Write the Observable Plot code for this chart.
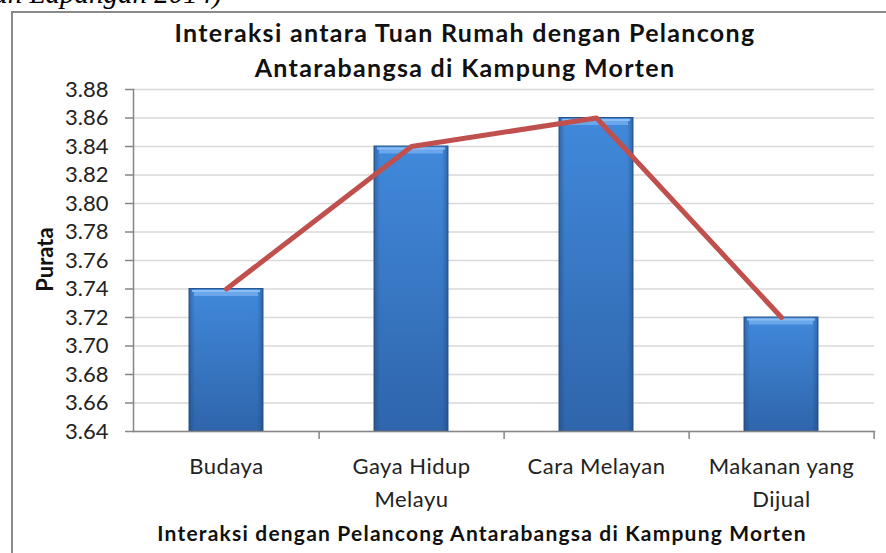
<!DOCTYPE html>
<html><head><meta charset="utf-8">
<script src="https://cdn.jsdelivr.net/npm/d3@7"></script>
<script src="https://cdn.jsdelivr.net/npm/@observablehq/plot@0.6"></script>
<style>
html,body{margin:0;padding:0;background:#fff;overflow:hidden;width:886px;height:553px}
#wrap{position:relative;width:886px;height:553px;overflow:hidden}
#border{position:absolute;left:11px;top:11px;width:1000px;height:1000px;border:2px solid #8a8a8a;pointer-events:none}
#note{position:absolute;right:664px;top:-27px;font-family:"Liberation Serif",serif;font-style:italic;font-size:29px;line-height:40px;color:#000;white-space:nowrap}
#chart{position:absolute;left:0;top:0}
</style>
</head><body>
<div id="wrap"><div id="chart"></div><div id="border"></div><div id="note"></div></div>
<script>
const categories = ["Budaya", "Gaya Hidup Melayu", "Cara Melayan", "Makanan yang Dijual"];
const categoryLabels = ["Budaya", "Gaya Hidup\nMelayu", "Cara Melayan", "Makanan yang\nDijual"];
const purata = [3.74, 3.84, 3.86, 3.72];
const yTicks = [3.64, 3.66, 3.68, 3.70, 3.72, 3.74, 3.76, 3.78, 3.80, 3.82, 3.84, 3.86, 3.88];
const titleLines = ["Interaksi antara Tuan Rumah dengan Pelancong", "Antarabangsa di Kampung Morten"];
const xTitle = "Interaksi dengan Pelancong Antarabangsa di Kampung Morten";
const yTitle = "Purata";
const sourceNote = "(Sumber: Kajian Lapangan 2014)";

document.getElementById("note").textContent = sourceNote;

const data = categories.map((c, i) => ({kategori: c, purata: purata[i]}));
const labelOf = new Map(categories.map((c, i) => [c, categoryLabels[i]]));

const W = 886, H = 553;
const mL = 133, mR = 12, mT = 89, mB = 122;
const step = (W - mL - mR) / categories.length;
const font = "Lato, 'Open Sans', sans-serif";

const defs = () => {
  const g = d3.create("svg:defs");
  g.html(`
    <linearGradient id="barGrad" x1="0" y1="0" x2="0" y2="1">
      <stop offset="0" stop-color="#4189db"/>
      <stop offset="1" stop-color="#2f65ab"/>
    </linearGradient>
    <linearGradient id="barSide" x1="0" y1="0" x2="1" y2="0">
      <stop offset="0" stop-color="#1c3f70" stop-opacity="0.45"/>
      <stop offset="0.08" stop-color="#1c3f70" stop-opacity="0"/>
      <stop offset="0.92" stop-color="#1c3f70" stop-opacity="0"/>
      <stop offset="1" stop-color="#1c3f70" stop-opacity="0.45"/>
    </linearGradient>`);
  return g.node();
};

const chart = Plot.plot({
  width: W, height: H,
  marginLeft: mL, marginRight: mR, marginTop: mT, marginBottom: mB,
  style: {fontFamily: font, background: "transparent", overflow: "visible"},
  x: {domain: categories, paddingInner: 0.6, paddingOuter: 0.3, label: null},
  y: {domain: [yTicks[0], yTicks[yTicks.length - 1]], label: null},
  marks: [
    defs,
    Plot.gridY(yTicks, {stroke: "#d9d9d9", strokeOpacity: 1, strokeWidth: 1.5}),
    Plot.barY(data, {x: "kategori", y1: () => yTicks[0], y2: "purata", fill: "url(#barGrad)", stroke: "#2a568c", strokeWidth: 1}),
    Plot.barY(data, {x: "kategori", y1: () => yTicks[0], y2: "purata", fill: "url(#barSide)"}),
    Plot.tickY(data, {x: "kategori", y: "purata", stroke: "#6aa6ec", strokeWidth: 6, dy: 4, insetLeft: 5, insetRight: 5}),
    Plot.tickY(data, {x: "kategori", y: "purata", stroke: "#8cbdf3", strokeWidth: 2, dy: 2, insetLeft: 3, insetRight: 3}),
    Plot.lineY(data, {x: "kategori", y: "purata", stroke: "#c0504d", strokeWidth: 5, strokeLinejoin: "round", strokeLinecap: "round"}),
    Plot.frame({anchor: "left", stroke: "#868686", strokeWidth: 1.5}),
    Plot.frame({anchor: "bottom", stroke: "#868686", strokeWidth: 1.5}),
    Plot.ruleX(categories, {x: d => d, dx: step / 2, y1: () => yTicks[0], y2: () => yTicks[0], insetBottom: -8, stroke: "#868686", strokeWidth: 1.5}),
    Plot.axisY(yTicks, {tickFormat: d3.format(".2f"), tickSize: 8, tickPadding: 17, fontSize: 22, stroke: "#868686", strokeWidth: 1.5, fill: "#222", label: null}),
    Plot.axisX({tickSize: 0, tickPadding: 19, fontSize: 22, lineHeight: 1.5, tickFormat: d => labelOf.get(d), fill: "#222", label: null, lineAnchor: "top"}),
    Plot.text([titleLines.join("\n")], {frameAnchor: "top", dx: -39, dy: -72, lineAnchor: "top", lineHeight: 1.4, fontSize: 25, fontWeight: "bold", fill: "#111"}),
    Plot.text([xTitle], {frameAnchor: "bottom", dx: -22, dy: 109, lineAnchor: "bottom", fontSize: 21, fontWeight: "bold", fill: "#111"}),
    Plot.text([yTitle], {frameAnchor: "left", dx: -88, dy: -1, rotate: -90, lineAnchor: "middle", textAnchor: "middle", fontSize: 22, fontWeight: "bold", fill: "#111"})
  ]
});

// widen the Calibri-like text spacing
d3.select(chart).selectAll("text").each(function () {
  const t = this.textContent;
  if (t === xTitle) this.style.letterSpacing = "1.2px";
  else if (t.startsWith(titleLines[0])) this.style.letterSpacing = "1.3px";
  else if (categoryLabels.some(l => l.replace("\n", "") === t)) this.style.letterSpacing = "0.5px";
});

document.getElementById("chart").appendChild(chart);
</script>
</body></html>
